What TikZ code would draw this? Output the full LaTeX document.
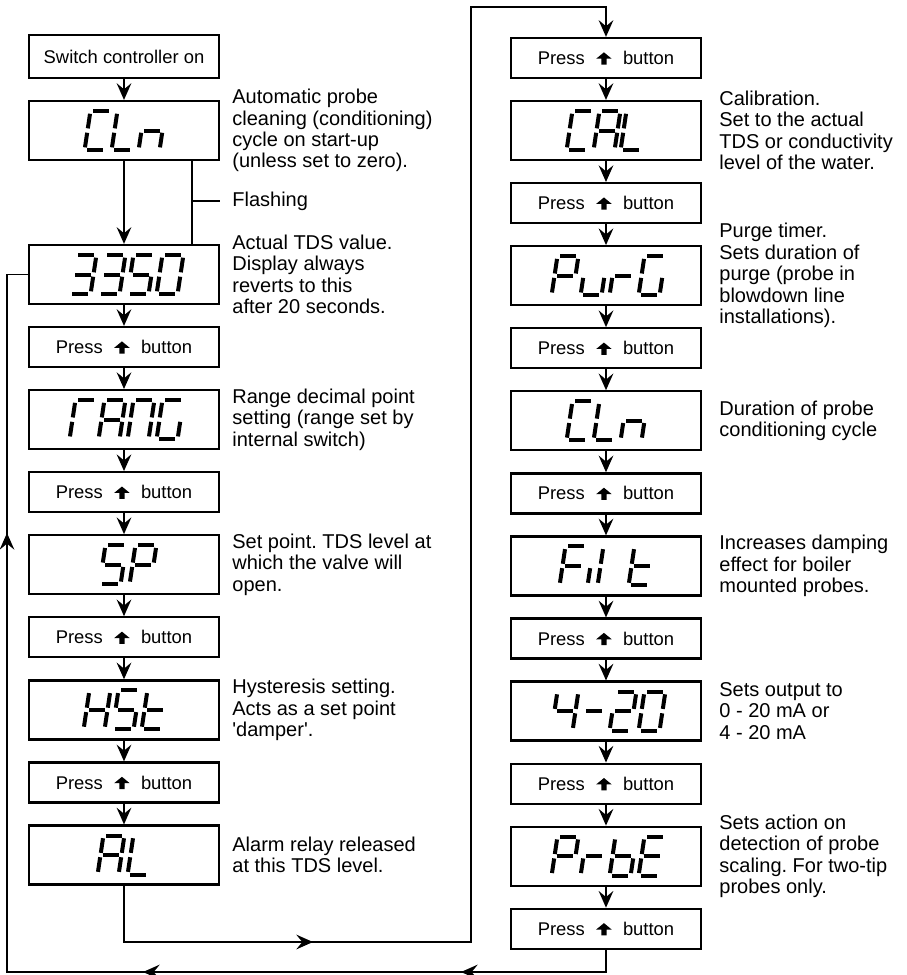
\documentclass[tikz,border=0pt]{standalone}
\usepackage{fontspec}
\setmainfont{Liberation Sans}
\usetikzlibrary{arrows.meta,positioning}
\frenchspacing

\newcommand\boxfont{\fontsize{13.8}{16}\selectfont}
\newcommand\descfont{\fontsize{15}{16.1}\selectfont}

% arrow key symbol
\newcommand\upkey{\tikz[baseline=0pt]\fill (-5.8pt,4.4pt) -- (0pt,9.2pt) -- (5.8pt,4.4pt) -- (2pt,4.4pt) -- (2pt,0pt) -- (-2pt,0pt) -- (-2pt,4.4pt) -- cycle;}
\newcommand\presstext{Press\hspace{8.5pt}\upkey\hspace{8.5pt}button}

% seven segment bars, digit centre at origin
\newcommand\lcdsega{\draw[segbar] (-7.8,-19.5) -- (7.8,-19.5);}
\newcommand\lcdsegb{\draw[segbar] (10.5,-16.8) -- (10.5,-2.2);}
\newcommand\lcdsegc{\draw[segbar] (10.5,2.2) -- (10.5,16.8);}
\newcommand\lcdsegd{\draw[segbar] (-7.8,19.5) -- (7.8,19.5);}
\newcommand\lcdsege{\draw[segbar] (-10.5,2.2) -- (-10.5,16.8);}
\newcommand\lcdsegf{\draw[segbar] (-10.5,-16.8) -- (-10.5,-2.2);}
\newcommand\lcdsegg{\draw[segbar] (-7.8,0) -- (7.8,0);}
\newcommand\lcd[2]{%
  \foreach \dx/\sg in {#2} {%
    \begin{scope}[shift={(#1.center)}, shift={(\dx,0)}, xslant=0.15]
      \foreach \s in \sg {\csname lcdseg\s\endcsname}
    \end{scope}}}

\begin{document}
\begin{tikzpicture}[
    x=0.75pt, y=-0.75pt,
    box/.style={
    draw=black,
    line width=1.7pt,
    minimum width=142.5pt,
    inner sep=0pt,
    font=\boxfont},
    lcdbox/.style={box, minimum height=44.25pt},
    pressbox/.style={box, minimum height=30pt},
    desc/.style={align=left, inner sep=0pt, font=\descfont},
    flow/.style={-{Stealth[length=12.5pt,width=11pt,inset=4.5pt]}, line width=1.3pt},
    wire/.style={line width=1.3pt},
    segbar/.style={line width=3pt},
    node distance=15.6pt and 9pt
    ]
    \useasboundingbox (0,0) rectangle (907,975);

    % left column
    \node[box, minimum height=32.25pt] (start) at (124,56.5) {Switch controller on};
    \node[lcdbox, below=of start] (cln) {};
    \node[lcdbox, below=62pt of cln] (tds) {};
    \node[pressbox, below=of tds] (pl1) {\presstext};
    \node[lcdbox, below=of pl1] (rang) {};
    \node[pressbox, below=of rang] (pl2) {\presstext};
    \node[lcdbox, below=of pl2] (sp) {};
    \node[pressbox, below=of sp] (pl3) {\presstext};
    \node[lcdbox, below=of pl3] (hst) {};
    \node[pressbox, below=of hst] (pl4) {\presstext};
    \node[lcdbox, below=of pl4] (al) {};

    % right column
    \node[pressbox] (pr1) at (606,58) {\presstext};
    \node[lcdbox, below=of pr1] (cal) {};
    \node[pressbox, below=of cal] (pr2) {\presstext};
    \node[lcdbox, below=of pr2] (purg) {};
    \node[pressbox, below=of purg] (pr3) {\presstext};
    \node[lcdbox, below=of pr3] (clnb) {};
    \node[pressbox, below=of clnb] (pr4) {\presstext};
    \node[lcdbox, below=of pr4] (filt) {};
    \node[pressbox, below=of filt] (pr5) {\presstext};
    \node[lcdbox, below=of pr5] (mA) {};
    \node[pressbox, below=of mA] (pr6) {\presstext};
    \node[lcdbox, below=of pr6] (prbe) {};
    \node[pressbox, below=of prbe] (pr7) {\presstext};

    % display readings
    \lcd{cln}{-26/{a,d,e,f}, 1/{d,e,f}, 28/{c,e,g}}
    \lcd{tds}{-41/{a,b,c,d,g}, -12/{a,b,c,d,g}, 17/{a,c,d,f,g}, 46/{a,b,c,d,e,f}}
    \lcd{rang}{-41/{a,e,f}, -12/{a,b,c,e,f,g}, 17/{a,b,c,e,f}, 46/{a,c,d,e,f}}
    \lcd{sp}{-11/{a,c,d,f,g}, 19/{a,b,e,f,g}}
    \lcd{hst}{-27/{b,c,e,f,g}, 2/{a,c,d,f,g}, 31/{d,e,f,g}}
    \lcd{al}{-13/{a,b,c,e,f,g}, 17/{d,e,f}}
    \lcd{cal}{-26/{a,d,e,f}, 1/{a,b,c,e,f,g}, 28/{d,e,f}}
    \lcd{purg}{-41/{a,b,e,f,g}, -12/{c,d,e}, 17/{e,g}, 46/{a,c,d,e,f}}
    \lcd{clnb}{-26/{a,d,e,f}, 1/{d,e,f}, 28/{c,e,g}}
    \lcd{filt}{-33/{a,e,f,g}, -5/{e}, 5/{e,f}, 36/{d,e,f,g}}
    \lcd{mA}{-41/{b,c,f,g}, -12/{g}, 17/{a,b,d,e,g}, 46/{a,b,c,d,e,f}}
    \lcd{prbe}{-41/{a,b,e,f,g}, -12/{e,g}, 17/{c,d,e,f,g}, 46/{a,d,e,f,g}}

    % notes
    \node[desc, right=of cln] {Automatic probe\\cleaning (conditioning)\\cycle on start-up\\(unless set to zero).};
    \node[desc, right=of tds] {Actual TDS value.\\Display always\\reverts to this\\after 20 seconds.};
    \node[desc, right=of rang] {Range decimal point\\setting (range set by\\internal switch)};
    \node[desc, right=of sp] {Set point. TDS level at\\which the valve will\\open.};
    \node[desc, right=of hst] {Hysteresis setting.\\Acts as a set point\\\textquotesingle damper\textquotesingle.};
    \node[desc, right=of al] {Alarm relay released\\at this TDS level.};
    \node[desc, right=12.75pt of cal] {Calibration.\\Set to the actual\\TDS or conductivity\\level of the water.};
    \node[desc, right=12.75pt of purg] {Purge timer.\\Sets duration of\\purge (probe in\\blowdown line\\installations).};
    \node[desc, right=12.75pt of clnb] {Duration of probe\\conditioning cycle};
    \node[desc, right=12.75pt of filt] {Increases damping\\effect for boiler\\mounted probes.};
    \node[desc, right=12.75pt of mA] {Sets output to\\0 - 20 mA or\\4 - 20 mA};
    \node[desc, right=12.75pt of prbe] {Sets action on\\detection of probe\\scaling. For two-tip\\probes only.};

    % flashing bracket
    \coordinate (flash) at (192,201);
    \draw[wire] (cln.south -| flash) -- (tds.north -| flash);
    \draw[wire] (flash) -- (flash -| cln.east) coordinate (flashend);
    \node[desc, right=of flashend] (flashtxt) {Flashing};

    % left column arrows
    \draw[flow] (start) -- (cln);
    \draw[flow] (cln) -- (tds);
    \draw[flow] (tds) -- (pl1);
    \draw[flow] (pl1) -- (rang);
    \draw[flow] (rang) -- (pl2);
    \draw[flow] (pl2) -- (sp);
    \draw[flow] (sp) -- (pl3);
    \draw[flow] (pl3) -- (hst);
    \draw[flow] (hst) -- (pl4);
    \draw[flow] (pl4) -- (al);

    % right column arrows
    \draw[flow] (pr1) -- (cal);
    \draw[flow] (cal) -- (pr2);
    \draw[flow] (pr2) -- (purg);
    \draw[flow] (purg) -- (pr3);
    \draw[flow] (pr3) -- (clnb);
    \draw[flow] (clnb) -- (pr4);
    \draw[flow] (pr4) -- (filt);
    \draw[flow] (filt) -- (pr5);
    \draw[flow] (pr5) -- (mA);
    \draw[flow] (mA) -- (pr6);
    \draw[flow] (pr6) -- (prbe);
    \draw[flow] (prbe) -- (pr7);

    % link to second column
    \coordinate (turnA) at (471,942);
    \coordinate (turnB) at (471,7);
    \coordinate (tipA) at (313,942);
    \draw[flow] (al.south) |- (turnA) -- (turnB) -| (pr1.north);
    \draw[flow] (al.south |- turnA) -- (tipA);

    % return loop
    \coordinate (turnC) at (7,972);
    \coordinate (tipB) at (461,972);
    \coordinate (tipC) at (143,972);
    \coordinate (tipD) at (7,533);
    \draw[wire] (pr7.south) |- (turnC) |- (tds.west);
    \draw[flow] (pr7.south |- turnC) -- (tipB);
    \draw[flow] (tipB) -- (tipC);
    \draw[flow] (turnC) -- (tipD);
\end{tikzpicture}
\end{document}
